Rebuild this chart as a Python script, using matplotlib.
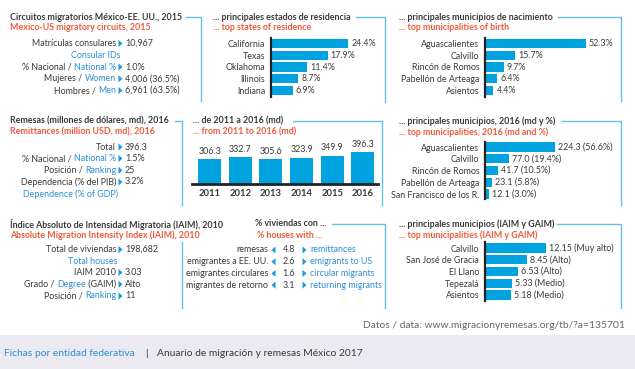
import matplotlib
matplotlib.use("Agg")
import matplotlib.pyplot as plt
from matplotlib.patches import Polygon, Rectangle

# ---------------- data ----------------
circuit_labels = [("Matrículas consulares", None), ("% Nacional / ", "National %"),
                  ("Mujeres / ", "Women"), ("Hombres / ", "Men")]
circuit_values = ["10,967", "1.0%", "4,006 (36.5%)", "6,961 (63.5%)"]

states = ["California", "Texas", "Oklahoma", "Illinois", "Indiana"]
state_pct = [24.4, 17.9, 11.4, 8.7, 6.9]

birth_munis = ["Aguascalientes", "Calvillo", "Rincón de Romos", "Pabellón de Arteaga", "Asientos"]
birth_pct = [52.3, 15.7, 9.7, 6.4, 4.4]

remit_values = ["396.3", "1.5%", "25", "3.2%"]

years = ["2011", "2012", "2013", "2014", "2015", "2016"]
remit_by_year = [306.3, 332.7, 305.6, 323.9, 349.9, 396.3]

remit_munis = ["Aguascalientes", "Calvillo", "Rincón de Romos", "Pabellón de Arteaga", "San Francisco de los R."]
remit_md = [224.3, 77.0, 41.7, 23.1, 12.1]
remit_pct = [56.6, 19.4, 10.5, 5.8, 3.0]

iaim_values = ["198,682", "3.03", "Alto", "11"]

house_es = ["remesas", "emigrantes a EE. UU.", "emigrantes circulares", "migrantes de retorno"]
house_en = ["remittances", "emigrants to US", "circular migrants", "returning migrants"]
house_pct = [4.8, 2.6, 1.6, 3.1]

iaim_munis = ["Calvillo", "San José de Gracia", "El Llano", "Tepezalá", "Asientos"]
iaim_munis_vals = [12.15, 8.45, 6.53, 5.33, 5.18]
gaim = ["Muy alto", "Alto", "Alto", "Medio", "Medio"]

# ---------------- style ----------------
W, H = 635, 369
DARK = "#3a3a3a"
RED = "#ef5a3c"
BLUE = "#2f8fd3"
BAR = "#00a3e0"
LINE = "#62c0ea"
TRI = "#1a9bdb"
GREY = "#666666"
FONT = ["Lato", "DejaVu Sans"]
FS = 6.4
TFS = 6.4
FFS = 7.4

plt.rcParams["font.family"] = FONT

fig = plt.figure(figsize=(W / 100, H / 100), dpi=100)
fig.patch.set_facecolor("white")
ax0 = fig.add_axes([0, 0, 1, 1])
ax0.set_xlim(0, W)
ax0.set_ylim(H, 0)
ax0.axis("off")
renderer = fig.canvas.get_renderer()


def width(s, **kw):
    t = ax0.text(0, 0, s, **kw)
    bb = t.get_window_extent(renderer)
    t.remove()
    return bb.width


SP = width("a a", fontsize=FS) - width("aa", fontsize=FS)


def rparts(xr, y, parts, fs=FS, weight="normal"):
    x = xr
    for s, c in reversed(parts):
        core = s.rstrip()
        x -= (len(s) - len(core)) * SP
        ax0.text(x, y, core, ha="right", va="center", color=c, fontsize=fs, fontweight=weight)
        x -= width(core, fontsize=fs, fontweight=weight)
    return x


def ltext(x, y, s, c=DARK, fs=FS, weight="normal"):
    ax0.text(x, y, s, ha="left", va="center", color=c, fontsize=fs, fontweight=weight)


def tri_r(x, y, c=TRI):
    ax0.add_patch(Polygon([[x, y - 3.6], [x, y + 3.6], [x + 4, y]], closed=True, color=c, lw=0))


def tri_l(x, y, c=TRI):
    ax0.add_patch(Polygon([[x + 4, y - 3.6], [x + 4, y + 3.6], [x, y]], closed=True, color=c, lw=0))


def titles(x, y, es, en):
    ltext(x, y, es, DARK, TFS, "bold")
    ltext(x, y + 11, en, RED, TFS, "bold")


def connector(x1, x2, y, y2):
    ax0.plot([x1, x2, x2], [y, y, y2], color=LINE, lw=1.0, solid_joinstyle="miter")


def stat_rows(ys, labels, values, xr=116):
    for y, (a, b), v in zip(ys, labels, values):
        parts = [(a, DARK)] + ([(b, BLUE)] if b else [])
        if isinstance(b, tuple):
            parts = [(a, DARK), (b[0], BLUE), (b[1], DARK)]
        rparts(xr, y, parts)
        tri_r(118.5, y)
        ltext(125, y, v)


def hbars(x_axis, y_top, y_bot, row0, spacing, scale, cats, vals, labels, right=632):
    ax = fig.add_axes([x_axis / W, 1 - y_bot / H, (right - x_axis) / W, (y_bot - y_top) / H])
    n = len(vals)
    ax.barh(range(n), vals, height=9.2 / spacing, color=BAR)
    ax.set_xlim(0, (right - x_axis) / scale)
    ax.set_ylim((y_bot - row0) / spacing, -(row0 - y_top) / spacing)
    for s in ["top", "right", "bottom"]:
        ax.spines[s].set_visible(False)
    ax.spines["left"].set_linewidth(1.6)
    ax.spines["left"].set_color("#222222")
    ax.set_xticks([])
    ax.set_yticks(range(n))
    ax.set_yticklabels(cats, fontsize=FS, color=DARK)
    ax.tick_params(axis="y", length=0, pad=4.2)
    for i, (v, lab) in enumerate(zip(vals, labels)):
        ax.annotate(lab, (v, i), xytext=(2.2, 0), textcoords="offset points",
                    va="center", ha="left", fontsize=FS, color=DARK)
    ax.patch.set_alpha(0)
    return ax


# ---------------- row 1 ----------------
titles(10, 17, "Circuitos migratorios México-EE. UU., 2015", "Mexico-US migratory circuits, 2015")
connector(186, 201, 17, 101)
ys1 = [43.5, 67, 78.8, 90.5]
stat_rows(ys1, circuit_labels, circuit_values)
ax0.text(96, 55.3, "Consular IDs", ha="center", va="center", color=BLUE, fontsize=FS)

titles(213, 17, "... principales estados de residencia", "... top states of residence")
connector(356, 385, 17, 102)
hbars(271, 38, 97, 43.5, 11.75, 3.16, states, state_pct, [f"{v:.1f}%" for v in state_pct], right=380)

titles(399, 17, "... principales municipios de nacimiento", "... top municipalities of birth")
connector(558, 621, 17, 101)
hbars(485, 38, 97, 43.5, 11.75, 1.93, birth_munis, birth_pct, [f"{v:.1f}%" for v in birth_pct])

# ---------------- row 2 ----------------
titles(10, 121, "Remesas (millones de dólares, md), 2016", "Remittances (million USD, md), 2016")
connector(175, 182, 121, 205)
remit_labels = [("Total", None), ("% Nacional / ", "National %"), ("Posición / ", "Ranking"),
                ("Dependencia (% del PIB)", None)]
stat_rows([147, 158.5, 170.3, 182], remit_labels, remit_values)
ltext(23, 194, "Dependence (% of GDP)", BLUE)

titles(193, 121, "... de 2011 a 2016 (md)", "... from 2011 to 2016 (md)")
connector(293, 382, 121, 205)
axc = fig.add_axes([192 / W, 1 - 184 / H, 186 / W, 44 / H])
axc.bar(range(len(years)), remit_by_year, width=0.75, color=BAR)
axc.set_xlim(-0.57, 5.49)
axc.set_ylim(0, 44 / 0.0807)
for s in ["top", "right", "left"]:
    axc.spines[s].set_visible(False)
axc.spines["bottom"].set_linewidth(2.0)
axc.spines["bottom"].set_color("#222222")
axc.set_yticks([])
axc.set_xticks(range(len(years)))
axc.set_xticklabels(years, fontsize=6.8, color=DARK, fontweight="bold")
axc.tick_params(axis="x", length=0, pad=3.5)
for i, v in enumerate(remit_by_year):
    axc.annotate(f"{v:.1f}", (i, v), xytext=(0, 2.5), textcoords="offset points",
                 ha="center", va="bottom", fontsize=FS, color=DARK)
axc.patch.set_alpha(0)

titles(399, 121, "... principales municipios, 2016 (md y %)", "... top municipalities, 2016 (md and %)")
connector(562, 621, 121, 205)
hbars(485, 142, 199, 147, 11.75, 0.312, remit_munis, remit_md,
      [f"{v:.1f} ({p:.1f}%)" for v, p in zip(remit_md, remit_pct)])

# ---------------- row 3 ----------------
titles(10, 224, "Índice Absoluto de Intensidad Migratoria (IAIM), 2010",
       "Absolute Migration Intensity Index (IAIM), 2010")
ax0.plot([182, 182], [242, 308], color=LINE, lw=1.0)
iaim_labels = [("Total de viviendas", None), ("IAIM 2010", None),
               ("Grado / ", ("Degree", " (GAIM)")), ("Posición / ", "Ranking")]
stat_rows([249.5, 272.5, 284.3, 296], iaim_labels, iaim_values)
ax0.text(93, 261, "Total houses", ha="center", va="center", color=BLUE, fontsize=FS)

ltext(255, 224, "% viviendas con ...", DARK, TFS, "bold")
ltext(257, 235, "% houses with ...", RED, TFS, "bold")
connector(332, 385, 224, 308)
for i, (es, en, v) in enumerate(zip(house_es, house_en, house_pct)):
    y = 250 + i * 11.7
    ax0.text(268, y, es, ha="right", va="center", color=DARK, fontsize=FS)
    tri_l(271.5, y)
    ax0.text(289, y, f"{v:.1f}", ha="center", va="center", color=DARK, fontsize=FS)
    tri_r(302.5, y)
    ltext(310, y, en, BLUE)

titles(399, 224, "... principales municipios (IAIM y GAIM)", "... top municipalities (IAIM y GAIM)")
connector(557, 621, 224, 308)
hbars(485, 242, 301, 248, 11.75, 5.0, iaim_munis, iaim_munis_vals,
      [f"{v:.2f} ({g})" for v, g in zip(iaim_munis_vals, gaim)])

# ---------------- footer ----------------
ax0.text(625, 325, "Datos / data: www.migracionyremesas.org/tb/?a=135701", ha="right", va="center",
         color=GREY, fontsize=FFS)
ax0.add_patch(Rectangle((0, 335), W, H - 335, color="#ebeaf0", lw=0, zorder=0))
ltext(4, 353, "Fichas por entidad federativa", BLUE, FFS)
ltext(145, 353, "|", DARK, FFS)
ltext(157, 353, "Anuario de migración y remesas México 2017", DARK, FFS)

fig.savefig("out.png", dpi=100, facecolor="white")
